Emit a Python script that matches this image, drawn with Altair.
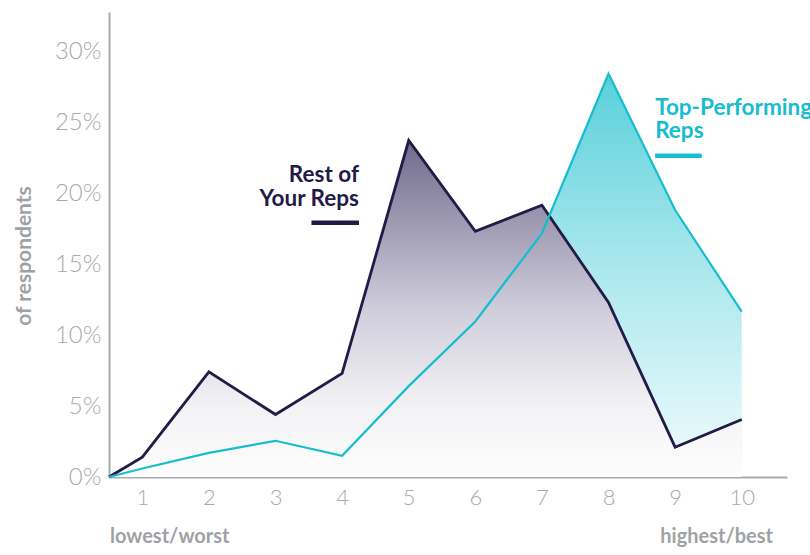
import altair as alt
import pandas as pd

# ---- data ----
scores = [0.5, 1, 2, 3, 4, 5, 6, 7, 8, 9, 10]
rest_of_reps = [0, 1.4, 7.4, 4.4, 7.3, 23.7, 17.3, 19.15, 12.3, 2.1, 4.05]
top_performing = [0, 0.6, 1.7, 2.55, 1.5, 6.4, 10.95, 17.15, 28.4, 18.8, 11.65]
x_ticks = [1, 2, 3, 4, 5, 6, 7, 8, 9, 10]
y_ticks = [0, 5, 10, 15, 20, 25, 30]

rest_label = ["Rest of", "Your Reps"]
top_label = ["Top-Performing", "Reps"]
axis_title = "of respondents"
low_label = "lowest/worst"
high_label = "highest/best"

NAVY = "#221b47"
CYAN = "#16bdcf"
GRAY = "#a6aaad"
GRAY_BOLD = "#9ea2a5"

df = pd.DataFrame({"score": scores, "rest": rest_of_reps, "top": top_performing})

xs = alt.Scale(domain=[0.5, 10.68], nice=False, zero=False)
ys = alt.Scale(domain=[0, 32.75], nice=False, zero=True)

X = alt.X(
    "score:Q", scale=xs,
    axis=alt.Axis(values=x_ticks, format="d", title=None, grid=False, ticks=False,
                  domainColor=GRAY, domainWidth=2, labelFont="Lato",
                  labelFontWeight=300, labelFontSize=22, labelColor=GRAY,
                  labelPadding=10, labelFlush=False),
)
yaxis = alt.Axis(values=y_ticks, title=None, grid=False, ticks=False,
                 domainColor=GRAY, domainWidth=2, labelFont="Lato",
                 labelFontWeight=300, labelFontSize=24, labelColor=GRAY,
                 labelPadding=8, labelExpr="datum.value + '%'")

base = alt.Chart(df)

top_area = base.mark_area(
    color=alt.Gradient(gradient="linear",
                       stops=[alt.GradientStop(color="#58d0db", offset=0),
                              alt.GradientStop(color="#a6e6ec", offset=0.45),
                              alt.GradientStop(color="#f2fcfd", offset=1)],
                       x1=1, x2=1, y1=0, y2=1),
    opacity=1,
).encode(x=X, y=alt.Y("top:Q", scale=ys, axis=yaxis))

rest_area = base.mark_area(
    color=alt.Gradient(gradient="linear",
                       stops=[alt.GradientStop(color="#6e6a8c", offset=0),
                              alt.GradientStop(color="#cfcddb", offset=0.5),
                              alt.GradientStop(color="#f3f3f6", offset=0.8),
                              alt.GradientStop(color="#fdfdfd", offset=1)],
                       x1=1, x2=1, y1=0, y2=1),
    opacity=1,
).encode(x=X, y=alt.Y("rest:Q", scale=ys, axis=yaxis))

rest_line = base.mark_line(color=NAVY, strokeWidth=2.8, strokeJoin="miter").encode(
    x=X, y=alt.Y("rest:Q", scale=ys, axis=yaxis))
top_line = base.mark_line(color=CYAN, strokeWidth=2.2, strokeJoin="miter").encode(
    x=X, y=alt.Y("top:Q", scale=ys, axis=yaxis))

# annotations
rest_txt = alt.Chart(pd.DataFrame({"t": rest_label, "x": [4.254, 4.254], "y": [20.8, 19.08]})).mark_text(
    font="Lato", fontWeight="bold", fontSize=22.5, color=NAVY, align="right", baseline="alphabetic"
).encode(x=alt.X("x:Q", scale=xs), y=alt.Y("y:Q", scale=ys), text="t:N")
rest_bar = alt.Chart(pd.DataFrame({"x": [3.54], "x2": [4.254], "y": [17.9]})).mark_rule(
    color=NAVY, strokeWidth=4.5).encode(x=alt.X("x:Q", scale=xs), x2="x2:Q", y=alt.Y("y:Q", scale=ys))

top_txt = alt.Chart(pd.DataFrame({"t": top_label, "x": [8.70, 8.70], "y": [25.5, 23.87]})).mark_text(
    font="Lato", fontWeight="bold", fontSize=22.5, color=CYAN, align="left", baseline="alphabetic"
).encode(x=alt.X("x:Q", scale=xs), y=alt.Y("y:Q", scale=ys), text="t:N")
top_bar = alt.Chart(pd.DataFrame({"x": [8.70], "x2": [9.40], "y": [22.63]})).mark_rule(
    color=CYAN, strokeWidth=4.5).encode(x=alt.X("x:Q", scale=xs), x2="x2:Q", y=alt.Y("y:Q", scale=ys))

ends = alt.Chart(pd.DataFrame({"t": [low_label, high_label], "x": [0.515, 10.47],
                               "y": [-4.65, -4.65], "a": ["left", "right"]}))
low_txt = ends.transform_filter("datum.a == 'left'").mark_text(
    font="Lato", fontWeight="bold", fontSize=20, color=GRAY_BOLD, align="left", baseline="alphabetic"
).encode(x=alt.X("x:Q", scale=xs), y=alt.Y("y:Q", scale=ys), text="t:N")
high_txt = ends.transform_filter("datum.a == 'right'").mark_text(
    font="Lato", fontWeight="bold", fontSize=20, color=GRAY_BOLD, align="right", baseline="alphabetic"
).encode(x=alt.X("x:Q", scale=xs), y=alt.Y("y:Q", scale=ys), text="t:N")

ytitle = alt.Chart(pd.DataFrame({"t": [axis_title]})).mark_text(
    font="Lato", fontWeight="bold", fontSize=21, color=GRAY_BOLD, angle=270,
    align="center", baseline="middle"
).encode(x=alt.value(-84), y=alt.value(244), text="t:N")

chart = alt.layer(
    top_area, rest_area, rest_line, top_line,
    rest_txt, rest_bar, top_txt, top_bar, low_txt, high_txt, ytitle,
).properties(
    width=678, height=465,
    autosize=alt.AutoSizeParams(type="none"),
    padding={"left": 109, "top": 12, "right": 23, "bottom": 78},
).configure_view(stroke=None)

chart.save("out.html", embed_options={"renderer": "svg", "actions": False})
